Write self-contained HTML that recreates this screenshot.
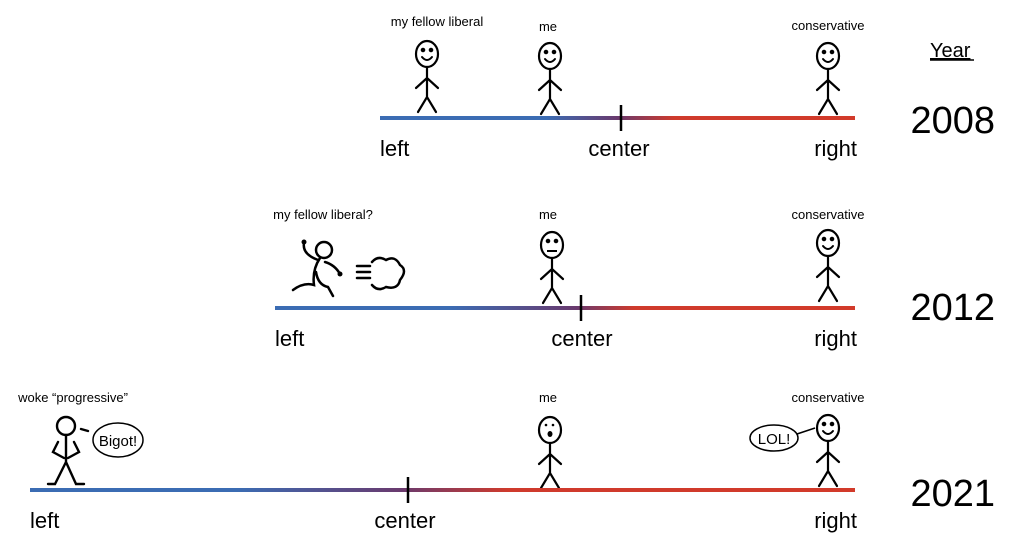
<!DOCTYPE html>
<html><head><meta charset="utf-8"><style>
body{margin:0;background:#fff}
svg{display:block}
text{font-family:"Liberation Sans",sans-serif;fill:#000}
</style></head><body>
<svg width="1010" height="550" viewBox="0 0 1010 550" xmlns="http://www.w3.org/2000/svg">
<defs>
<linearGradient id="g1" gradientUnits="userSpaceOnUse" x1="380" y1="0" x2="855" y2="0">
<stop offset="0" stop-color="#3b6cb3"/><stop offset="0.35" stop-color="#3b6cb3"/><stop offset="0.5" stop-color="#6a3a6e"/><stop offset="0.62" stop-color="#cf3a2c"/><stop offset="1" stop-color="#d23a2a"/></linearGradient>
<linearGradient id="g2" gradientUnits="userSpaceOnUse" x1="275" y1="0" x2="855" y2="0">
<stop offset="0" stop-color="#3b6cb3"/><stop offset="0.3" stop-color="#3b6cb3"/><stop offset="0.52" stop-color="#6a3a6e"/><stop offset="0.62" stop-color="#cf3a2c"/><stop offset="1" stop-color="#d23a2a"/></linearGradient>
<linearGradient id="g3" gradientUnits="userSpaceOnUse" x1="30" y1="0" x2="855" y2="0">
<stop offset="0" stop-color="#3b6cb3"/><stop offset="0.25" stop-color="#3b6cb3"/><stop offset="0.45" stop-color="#6a3a6e"/><stop offset="0.58" stop-color="#cf3a2c"/><stop offset="1" stop-color="#d23a2a"/></linearGradient>
<g id="body" fill="none" stroke="#000" stroke-width="2.2" stroke-linecap="round">
<ellipse cx="0" cy="0" rx="11" ry="13"/>
<path d="M0 13V43M-11 34L0 24L11 34M-9 58L0 43L9 58"/>
</g>
<g id="smile" fill="none" stroke="#000" stroke-width="2" stroke-linecap="round">
<path d="M-5 3Q0 9 5 3"/><circle cx="-4" cy="-4" r="1.3" fill="#000"/><circle cx="4" cy="-4" r="1.3" fill="#000"/>
</g>
</defs>

<text x="930" y="57" font-size="20" text-decoration="underline">Year</text>
<line x1="930" y1="60" x2="974" y2="60" stroke="#000" stroke-width="1.5"/>

<!-- 2008 -->
<text x="437" y="26" font-size="13" text-anchor="middle">my fellow liberal</text>
<text x="548" y="31" font-size="13" text-anchor="middle">me</text>
<text x="828" y="30" font-size="13" text-anchor="middle">conservative</text>
<use href="#body" x="427" y="54"/><use href="#smile" x="427" y="54"/>
<use href="#body" x="550" y="56"/><use href="#smile" x="550" y="56"/>
<use href="#body" x="828" y="56"/><use href="#smile" x="828" y="56"/>
<rect x="380" y="116" width="475" height="4" fill="url(#g1)"/>
<line x1="621" y1="105" x2="621" y2="131" stroke="#000" stroke-width="2.5"/>
<text x="380" y="156" font-size="22">left</text>
<text x="619" y="156" font-size="22" text-anchor="middle">center</text>
<text x="857" y="156" font-size="22" text-anchor="end">right</text>
<text x="995" y="133" font-size="38" text-anchor="end">2008</text>

<!-- 2012 -->
<text x="323" y="219" font-size="13" text-anchor="middle">my fellow liberal?</text>
<text x="548" y="219" font-size="13" text-anchor="middle">me</text>
<text x="828" y="219" font-size="13" text-anchor="middle">conservative</text>
<g fill="none" stroke="#000" stroke-width="2.5" stroke-linecap="round">
<circle cx="324" cy="250" r="8"/>
<path d="M320 258Q312 270 314 285Q304 282 293 290M316 272Q318 285 328 287L333 296M304 243Q302 254 318 260M325 262Q335 265 340 274"/>
<path d="M357 266H370M357 272H370M357 278H370"/>
<path d="M372 262Q378 255 386 260Q395 255 400 265Q408 270 400 280Q398 290 386 287Q378 292 372 285"/>
</g>
<circle cx="304" cy="242" r="2.5"/><circle cx="340" cy="274" r="2.5"/>
<use href="#body" x="552" y="245"/>
<g stroke="#000" stroke-width="2" fill="#000"><circle cx="548" cy="241" r="1.3"/><circle cx="556" cy="241" r="1.3"/><line x1="547" y1="251" x2="557" y2="251"/></g>
<use href="#body" x="828" y="243"/><use href="#smile" x="828" y="243"/>
<rect x="275" y="306" width="580" height="4" fill="url(#g2)"/>
<line x1="581" y1="295" x2="581" y2="321" stroke="#000" stroke-width="2.5"/>
<text x="275" y="346" font-size="22">left</text>
<text x="582" y="346" font-size="22" text-anchor="middle">center</text>
<text x="857" y="346" font-size="22" text-anchor="end">right</text>
<text x="995" y="320" font-size="38" text-anchor="end">2012</text>

<!-- 2021 -->
<text x="73" y="402" font-size="13" text-anchor="middle">woke “progressive”</text>
<text x="548" y="402" font-size="13" text-anchor="middle">me</text>
<text x="828" y="402" font-size="13" text-anchor="middle">conservative</text>
<g fill="none" stroke="#000" stroke-width="2.4" stroke-linecap="round">
<circle cx="66" cy="426" r="9"/>
<path d="M66 435V462M58 442L53 452L64 458M74 442L79 452L68 458M66 462L55 484H48M66 462L76 484H84"/>
<path d="M81 429L88 431"/>
<ellipse cx="118" cy="440" rx="25" ry="17" stroke-width="1.5"/>
</g>
<text x="118" y="446" font-size="15" text-anchor="middle">Bigot!</text>
<use href="#body" x="550" y="430"/>
<g fill="#000"><circle cx="546" cy="425" r="1.3"/><circle cx="553" cy="425" r="1.3"/><ellipse cx="550" cy="434" rx="2.5" ry="3"/></g>
<use href="#body" x="828" y="428"/><use href="#smile" x="828" y="428"/>
<ellipse cx="774" cy="438" rx="24" ry="13" fill="none" stroke="#000" stroke-width="1.5"/>
<path d="M797 434L815 428" stroke="#000" stroke-width="1.5"/>
<text x="774" y="444" font-size="15" text-anchor="middle">LOL!</text>
<rect x="30" y="488" width="825" height="4" fill="url(#g3)"/>
<line x1="408" y1="477" x2="408" y2="503" stroke="#000" stroke-width="2.5"/>
<text x="30" y="528" font-size="22">left</text>
<text x="405" y="528" font-size="22" text-anchor="middle">center</text>
<text x="857" y="528" font-size="22" text-anchor="end">right</text>
<text x="995" y="506" font-size="38" text-anchor="end">2021</text>
</svg>
</body></html>
